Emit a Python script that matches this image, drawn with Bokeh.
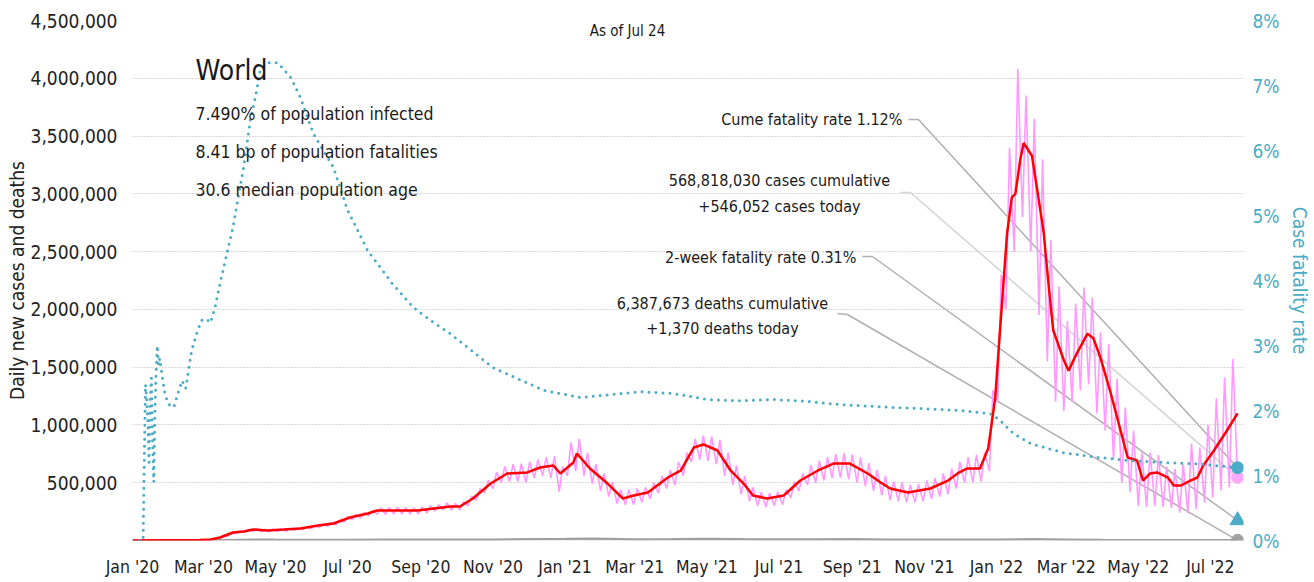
import pandas as pd
from bokeh.plotting import figure
from bokeh.models import Range1d, LinearAxis, FixedTicker, NumeralTickFormatter
from bokeh.core.properties import value
from bokeh.embed import file_html
from bokeh.resources import INLINE

FONT = "'DejaVu Sans Condensed', 'Liberation Sans Narrow', Roboto, sans-serif"
TEAL = "#4bacc6"
PINK = "#ff99ff"
RED = "#ff0000"
GRAY = "#a0a0a0"

# ---------------- data ----------------
x_tick_dates = ["2020-01-01", "2020-03-01", "2020-05-01", "2020-07-01", "2020-09-01", "2020-11-01",
                "2021-01-01", "2021-03-01", "2021-05-01", "2021-07-01", "2021-09-01", "2021-11-01",
                "2022-01-01", "2022-03-01", "2022-05-01", "2022-07-01"]
x_tick_labels = ["Jan '20", "Mar '20", "May '20", "Jul '20", "Sep '20", "Nov '20",
                 "Jan '21", "Mar '21", "May '21", "Jul '21", "Sep '21", "Nov '21",
                 "Jan '22", "Mar '22", "May '22", "Jul '22"]
left_ticks = [500000, 1000000, 1500000, 2000000, 2500000, 3000000, 3500000, 4000000, 4500000]
right_ticks = [0, 1, 2, 3, 4, 5, 6, 7, 8]
right_tick_labels = ["0%", "1%", "2%", "3%", "4%", "5%", "6%", "7%", "8%"]

# case fatality rate (%), right axis
cfr_dates = ["2020-01-01", "2020-01-10", "2020-01-11", "2020-01-12", "2020-01-13", "2020-01-14",
             "2020-01-15", "2020-01-16", "2020-01-17", "2020-01-18", "2020-01-19", "2020-01-20",
             "2020-01-21", "2020-01-22", "2020-01-23", "2020-01-24", "2020-01-26", "2020-01-28",
             "2020-01-31", "2020-02-05", "2020-02-09", "2020-02-12", "2020-02-15", "2020-02-17",
             "2020-02-20", "2020-02-25", "2020-02-29", "2020-03-04", "2020-03-07", "2020-03-11",
             "2020-03-15", "2020-03-26", "2020-04-04", "2020-04-10", "2020-04-14", "2020-04-18",
             "2020-04-24", "2020-05-03", "2020-05-14", "2020-05-22", "2020-06-02", "2020-06-19",
             "2020-07-01", "2020-07-18", "2020-08-08", "2020-08-26", "2020-09-12", "2020-09-26",
             "2020-11-01", "2020-12-14", "2021-01-14", "2021-03-06", "2021-04-03", "2021-05-01",
             "2021-05-29", "2021-06-26", "2021-07-25", "2021-08-22", "2021-10-03", "2021-10-29",
             "2021-12-01", "2021-12-27", "2022-01-04", "2022-01-15", "2022-01-30", "2022-02-27",
             "2022-03-27", "2022-04-24", "2022-05-22", "2022-06-20", "2022-07-24"]
cfr_pct = [0, 0, 1.3, 2.4, 2.2, 1.8,
           1.2, 2.2, 2.5, 1.5, 0.9, 2.0,
           2.6, 3.0, 2.7, 2.8, 2.55, 2.3,
           2.1, 2.05, 2.3, 2.46, 2.34, 2.57,
           2.92, 3.23, 3.4, 3.4, 3.35, 3.6,
           3.95, 4.82, 5.74, 6.5, 6.82, 7.23,
           7.35, 7.35, 7.12, 6.82, 6.26, 5.74,
           5.08, 4.46, 3.95, 3.58, 3.35, 3.18,
           2.66, 2.31, 2.2, 2.29, 2.26, 2.17,
           2.15, 2.17, 2.14, 2.09, 2.05, 2.03,
           2.0, 1.95, 1.85, 1.65, 1.49, 1.35,
           1.28, 1.23, 1.2, 1.18, 1.12]

# 7-day average of daily new cases (thousands)
avg_dates = ["2020-01-01", "2020-02-27", "2020-03-07", "2020-03-15", "2020-03-26", "2020-04-04",
             "2020-04-12", "2020-04-24", "2020-05-08", "2020-05-22", "2020-06-06", "2020-06-19",
             "2020-07-03", "2020-07-18", "2020-07-26", "2020-08-15", "2020-08-29", "2020-09-12",
             "2020-09-26", "2020-10-04", "2020-10-15", "2020-10-30", "2020-11-13", "2020-11-30",
             "2020-12-11", "2020-12-22", "2020-12-28", "2021-01-08", "2021-01-11", "2021-01-22",
             "2021-02-06", "2021-02-19", "2021-02-28", "2021-03-12", "2021-03-29", "2021-04-09",
             "2021-04-20", "2021-04-28", "2021-05-10", "2021-05-21", "2021-06-01", "2021-06-09",
             "2021-06-21", "2021-07-05", "2021-07-19", "2021-08-03", "2021-08-16", "2021-08-30",
             "2021-09-14", "2021-09-25", "2021-10-03", "2021-10-18", "2021-11-06", "2021-11-21",
             "2021-11-29", "2021-12-07", "2021-12-18", "2021-12-25", "2021-12-31", "2022-01-04",
             "2022-01-10", "2022-01-14", "2022-01-17", "2022-01-21", "2022-01-24", "2022-01-31",
             "2022-02-05", "2022-02-10", "2022-02-14", "2022-02-18", "2022-02-27", "2022-03-03",
             "2022-03-10", "2022-03-19", "2022-03-24", "2022-03-30", "2022-04-07", "2022-04-16",
             "2022-04-22", "2022-04-30", "2022-05-05", "2022-05-11", "2022-05-17", "2022-05-26",
             "2022-05-31", "2022-06-06", "2022-06-14", "2022-06-20", "2022-06-25", "2022-07-04",
             "2022-07-15", "2022-07-24"]
avg_k = [0, 5, 8, 26, 69, 78,
         95, 87, 95, 104, 130, 147,
         199, 234, 260, 260, 260, 277,
         294, 294, 363, 493, 580, 589,
         632, 649, 580, 675, 753, 623,
         493, 363, 389, 415, 545, 606,
         805, 831, 779, 606, 493, 389,
         363, 389, 519, 606, 666, 666,
         580, 502, 450, 415, 450, 519,
         580, 623, 623, 796, 1240, 1820,
         2660, 2970, 3000, 3290, 3440, 3330,
         3000, 2660, 2220, 1820, 1560, 1470,
         1620, 1790, 1750, 1580, 1300, 952,
         718, 692, 519, 580, 589, 545,
         476, 476, 519, 545, 649, 779,
         952, 1100]

# daily new cases (thousands): weekly low (Sunday) and high (mid-week), weeks from 2020-03-01
daily_week_start = "2020-03-01"
daily_low_k = [1.5, 5, 18, 40, 62, 70, 78, 75, 78, 78, 80, 88, 92, 100, 112, 125, 135, 160, 180, 195,
               215, 225, 225, 228, 230, 228, 230, 240, 255, 265, 262, 265, 300, 350, 410, 450, 500, 510,
               510, 500, 540, 560, 540, 420,
               560, 600, 560, 490, 430, 380, 320, 310, 310, 330, 360, 410, 450, 480, 560, 680, 700,
               690, 660, 560, 480, 400, 340, 300, 290, 300, 310, 370, 430, 480, 500, 520, 540, 545, 530,
               500, 470, 430, 390, 350, 340, 330, 330, 340, 360, 380, 400, 450, 500, 500, 510, 600,
               1200, 2000, 2500, 2800, 2500, 1950, 1550, 1200, 1120, 1200, 1300, 1350, 1100,
               950, 700, 500, 420, 300, 290, 300, 290, 280, 240, 235, 270, 330, 372, 433, 458]
daily_high_k = [3, 12, 35, 62, 82, 95, 105, 98, 98, 102, 105, 110, 118, 130, 142, 155, 175, 205, 225, 240,
                262, 285, 285, 288, 285, 282, 290, 300, 310, 325, 320, 335, 385, 450, 520, 590, 640, 660,
                665, 680, 700, 720, 730, 640,
                850, 880, 760, 660, 580, 510, 440, 440, 450, 460, 500, 560, 610, 680, 760, 880, 910,
                900, 870, 760, 650, 560, 460, 420, 410, 420, 440, 510, 580, 650, 690, 720, 750, 755, 745,
                720, 670, 610, 560, 510, 500, 480, 490, 520, 540, 580, 620, 680, 720, 740, 760, 1300,
                2300, 3400, 4080, 3850, 3650, 3300, 2600, 2200, 1900, 2050, 2190, 2100, 1800,
                1700, 1400, 1150, 950, 760, 760, 740, 640, 620, 660, 840, 805, 1000, 1230, 1410, 1570]

# daily deaths (thousands)
deaths_dates = ["2020-01-01", "2020-03-01", "2020-04-01", "2020-04-15", "2020-05-01", "2020-06-01",
                "2020-07-01", "2020-08-01", "2020-09-01", "2020-10-01", "2020-11-01", "2020-12-01",
                "2021-01-01", "2021-01-25", "2021-03-01", "2021-04-01", "2021-05-01", "2021-06-01",
                "2021-07-01", "2021-08-01", "2021-09-01", "2021-10-01", "2021-11-01", "2021-12-01",
                "2022-01-01", "2022-02-01", "2022-03-01", "2022-04-01", "2022-05-01", "2022-06-01",
                "2022-07-01", "2022-07-24"]
deaths_k = [0, 0.1, 5, 7, 5.5, 4.5,
            5, 6, 5.8, 5.5, 7, 10.5,
            12, 14.5, 9, 10, 13, 10,
            8, 9.5, 10, 7.5, 7, 7.5,
            6.5, 10.5, 7.5, 4, 2.5, 1.7,
            1.9, 1.4]

last_date = "2022-07-24"
cume_cfr_today = 1.12
cases_today = 546052
two_week_cfr = 0.31
deaths_today = 1370

assert len(cfr_dates) == len(cfr_pct)
assert len(avg_dates) == len(avg_k)
assert len(daily_low_k) == len(daily_high_k)
assert len(deaths_dates) == len(deaths_k)

# ---------------- layout helpers ----------------
X0 = pd.Timestamp("2020-01-01")
X1 = pd.Timestamp("2022-07-29")
PX_PER_DAY = 1.182
FRAME_L, FRAME_T, FRAME_B = 132, 20, 540
FRAME_R = FRAME_L + round(PX_PER_DAY * ((X1 - X0) / pd.Timedelta(days=1)))
YMAX = 4500000
WIDTH, HEIGHT = 1314, 582


def xd(px):
    return X0 + pd.Timedelta(days=(px - FRAME_L) / PX_PER_DAY)


def yv(py):
    return (FRAME_B - py) * YMAX / (FRAME_B - FRAME_T)


def yc(py):
    return (FRAME_B - py) * 8 / (FRAME_B - FRAME_T)


p = figure(width=WIDTH, height=HEIGHT, x_axis_type="datetime",
           x_range=Range1d(X0, X1), y_range=Range1d(0, YMAX),
           output_backend="svg", toolbar_location=None,
           min_border_left=FRAME_L, min_border_right=WIDTH - FRAME_R,
           min_border_top=FRAME_T, min_border_bottom=HEIGHT - FRAME_B)
p.extra_y_ranges = {"cfr": Range1d(0, 8)}
p.outline_line_color = None
p.background_fill_color = "white"
p.border_fill_color = "white"

# axes
p.xaxis.ticker = FixedTicker(ticks=[pd.Timestamp(d).value / 1e6 for d in x_tick_dates])
p.xaxis.major_label_overrides = {pd.Timestamp(d).value / 1e6: l for d, l in zip(x_tick_dates, x_tick_labels)}
p.xaxis.axis_line_color = None
p.xaxis.major_tick_line_color = None
p.xaxis.minor_tick_line_color = None
p.xaxis.major_tick_out = 0
p.xaxis.major_label_standoff = 16
p.xaxis.major_label_text_font = FONT
p.xaxis.major_label_text_font_size = "17.5px"
p.xaxis.major_label_text_color = "#222222"

p.yaxis.ticker = FixedTicker(ticks=left_ticks)
p.yaxis.formatter = NumeralTickFormatter(format="0,0")
p.yaxis.axis_line_color = None
p.yaxis.major_tick_line_color = None
p.yaxis.minor_tick_line_color = None
p.yaxis.major_tick_out = 0
p.yaxis.major_label_standoff = 15
p.yaxis.major_label_text_font = FONT
p.yaxis.major_label_text_font_size = "19px"
p.yaxis.major_label_text_color = "#222222"
p.yaxis.axis_label = "Daily new cases and deaths"
p.yaxis.axis_label_text_font = FONT
p.yaxis.axis_label_text_font_size = "19px"
p.yaxis.axis_label_text_font_style = "normal"
p.yaxis.axis_label_text_color = "#222222"
p.yaxis.axis_label_standoff = 0

ra = LinearAxis(y_range_name="cfr", ticker=FixedTicker(ticks=right_ticks),
                major_label_overrides={t: l for t, l in zip(right_ticks, right_tick_labels)})
ra.axis_line_color = None
ra.major_tick_line_color = None
ra.minor_tick_line_color = None
ra.major_tick_out = 0
ra.major_label_standoff = 9
ra.major_label_text_font = FONT
ra.major_label_text_font_size = "19px"
ra.major_label_text_color = TEAL
ra.axis_label = "Case fatality rate"
ra.axis_label_text_font = FONT
ra.axis_label_text_font_size = "19px"
ra.axis_label_text_font_style = "normal"
ra.axis_label_text_color = TEAL
ra.axis_label_standoff = 6
p.add_layout(ra, "right")

p.xgrid.grid_line_color = None
p.ygrid.grid_line_color = "#b0b0b0"
p.ygrid.grid_line_dash = "1 2"
p.ygrid.grid_line_width = 1

# leader lines (under data)
last = pd.Timestamp(last_date)
p.line([xd(908), xd(918), last], [yc(119), yc(119), cume_cfr_today], y_range_name="cfr",
       line_color="#b0b0b0", line_width=1.5)
p.line([xd(900), xd(910), last], [yv(192), yv(192), cases_today],
       line_color="#d4d4d4", line_width=1.5)
p.line([xd(862), xd(872), last], [yc(256), yc(256), two_week_cfr], y_range_name="cfr",
       line_color="#b0b0b0", line_width=1.5)
p.line([xd(837), xd(847), last], [yv(313), yv(314), deaths_today],
       line_color="#b0b0b0", line_width=1.5)

# daily cases (pink zig-zag)
ws = pd.Timestamp(daily_week_start)
dx, dy = [pd.Timestamp("2020-01-01")], [0]
for i, (lo, hi) in enumerate(zip(daily_low_k, daily_high_k)):
    dx.append(ws + pd.Timedelta(days=7 * i))
    dy.append(lo * 1000)
    dx.append(ws + pd.Timedelta(days=7 * i + 3))
    dy.append(hi * 1000)
dx.append(last)
dy.append(cases_today)
p.line(dx, dy, line_color=PINK, line_width=1.6)

# deaths (gray)
p.line([pd.Timestamp(d) for d in deaths_dates], [v * 1000 for v in deaths_k],
       line_color=GRAY, line_width=2.5)

# 7-day average (red)
p.line([pd.Timestamp(d) for d in avg_dates], [v * 1000 for v in avg_k],
       line_color=RED, line_width=2.5)

# case fatality rate (teal dotted)
p.line([pd.Timestamp(d) for d in cfr_dates], cfr_pct, y_range_name="cfr",
       line_color=TEAL, line_width=3, line_dash="0 7", line_cap="round")

# end markers
p.scatter([last], [cases_today], size=12, color="#ffaaff")
p.scatter([last], [cume_cfr_today], y_range_name="cfr", size=12, color=TEAL)
p.scatter([last], [two_week_cfr], y_range_name="cfr", marker="triangle", size=15, color=TEAL)
p.scatter([last], [deaths_today], size=12, color=GRAY)

# texts
def txt(px, py, s, size, align="left", color="#1a1a1a"):
    p.text([xd(px)], [yv(py)], text=[s], text_font=value(FONT), text_font_size=size,
           text_align=align, text_baseline="middle", text_color=color)

txt(195, 70, "World", "28px")
txt(195, 113, "7.490% of population infected", "17.5px")
txt(195, 151, "8.41 bp of population fatalities", "17.5px")
txt(195, 189, "30.6 median population age", "17.5px")
txt(627, 30, "As of Jul 24", "15px", "center")
txt(902, 119, "Cume fatality rate 1.12%", "16px", "right")
txt(779, 180, "568,818,030 cases cumulative", "16px", "center")
txt(779, 206, "+546,052 cases today", "16px", "center")
txt(856, 257, "2-week fatality rate 0.31%", "16px", "right")
txt(722, 303, "6,387,673 deaths cumulative", "16px", "center")
txt(722, 328, "+1,370 deaths today", "16px", "center")

open("out.html", "w").write(file_html(p, INLINE))
